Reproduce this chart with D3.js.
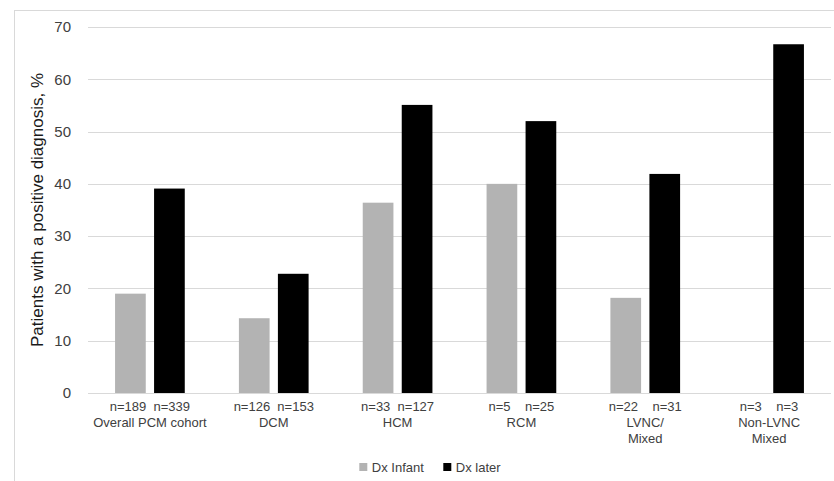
<!DOCTYPE html>
<html><head><meta charset="utf-8">
<script src="https://cdn.jsdelivr.net/npm/d3@7"></script>
<style>body{margin:0;background:#fff}svg{display:block;font-family:"Liberation Sans",Arial,sans-serif}</style>
</head><body><svg id="c" width="834" height="481"></svg>
<script>
const categories = [["Overall PCM cohort"],["DCM"],["HCM"],["RCM"],["LVNC/","Mixed"],["Non-LVNC","Mixed"]];
const nLabels = ["n=189  n=339","n=126  n=153","n=33  n=127","n=5    n=25","n=22    n=31","n=3    n=3"];
const series = ["Dx Infant","Dx later"];
const dxInfant = [19.0, 14.3, 36.4, 40.0, 18.2, 0];
const dxLater = [39.1, 22.8, 55.1, 52.0, 41.9, 66.7];
const yTicks = [0,10,20,30,40,50,60,70];
const colors = ["#b3b3b3","#000000"];

const svg = d3.select("#c");
const m = {l:88, r:831, t:27, b:393};
svg.append("rect").attr("x",14.5).attr("y",10.5).attr("width",840).attr("height",480)
  .attr("fill","#fff").attr("stroke","#d9d9d9");

const y = d3.scaleLinear().domain([0,70]).range([m.b,m.t]);
const x0 = d3.scaleBand().domain(d3.range(categories.length)).range([m.l,m.r]).paddingInner(0).paddingOuter(0);
const x1 = d3.scaleBand().domain(series).range([0,x0.bandwidth()]).paddingInner(0.213).paddingOuter(0.694);

svg.append("g").selectAll("line").data(yTicks).join("line")
  .attr("x1",m.l).attr("x2",m.r).attr("y1",d=>Math.round(y(d))+0.5).attr("y2",d=>Math.round(y(d))+0.5)
  .attr("stroke","#d9d9d9").attr("stroke-width",1);

const yAxis = d3.axisLeft(y).tickValues(yTicks).tickSize(0).tickPadding(0);
const ga = svg.append("g").attr("transform",`translate(71,0)`).call(yAxis);
ga.select(".domain").remove();
ga.selectAll("text").attr("font-size",15).attr("fill","#404040").attr("font-family","Liberation Sans, Arial, sans-serif");

const groups = svg.append("g").selectAll("g").data(categories.map((c,i)=>i)).join("g")
  .attr("transform",i=>`translate(${x0(i)},0)`);
groups.selectAll("rect").data(i=>[{s:series[0],v:dxInfant[i]},{s:series[1],v:dxLater[i]}]).join("rect")
  .attr("x",d=>x1(d.s)).attr("width",x1.bandwidth())
  .attr("y",d=>y(d.v)).attr("height",d=>y(0)-y(d.v))
  .attr("fill",(d,k)=>colors[k]);

const lab = svg.append("g").selectAll("g").data(categories.map((c,i)=>i)).join("g")
  .attr("transform",i=>`translate(${x0(i)+x0.bandwidth()/2},0)`);
lab.append("text").attr("y",411).attr("text-anchor","middle").attr("font-size",13).attr("fill","#404040")
  .style("white-space","pre").attr("xml:space","preserve").text(i=>nLabels[i]);
lab.each(function(i){
  const g = d3.select(this);
  categories[i].forEach((t,k)=>{
    g.append("text").attr("y",427+k*15.6).attr("text-anchor","middle").attr("font-size",13).attr("fill","#404040").text(t);
  });
});

svg.append("text").attr("transform","translate(43,210) rotate(-90)").attr("text-anchor","middle")
  .attr("font-size",17).attr("fill","#1a1a1a").text("Patients with a positive diagnosis, %");

const legX = [359.3, 443.3];
const lg = svg.append("g").selectAll("g").data(series).join("g").attr("transform",(d,i)=>`translate(${legX[i]},463)`);
lg.append("rect").attr("width",8).attr("height",8).attr("fill",(d,i)=>colors[i]);
lg.append("text").attr("x",12.5).attr("y",8.7).attr("font-size",13).attr("fill","#404040").text(d=>d);
</script></body></html>
